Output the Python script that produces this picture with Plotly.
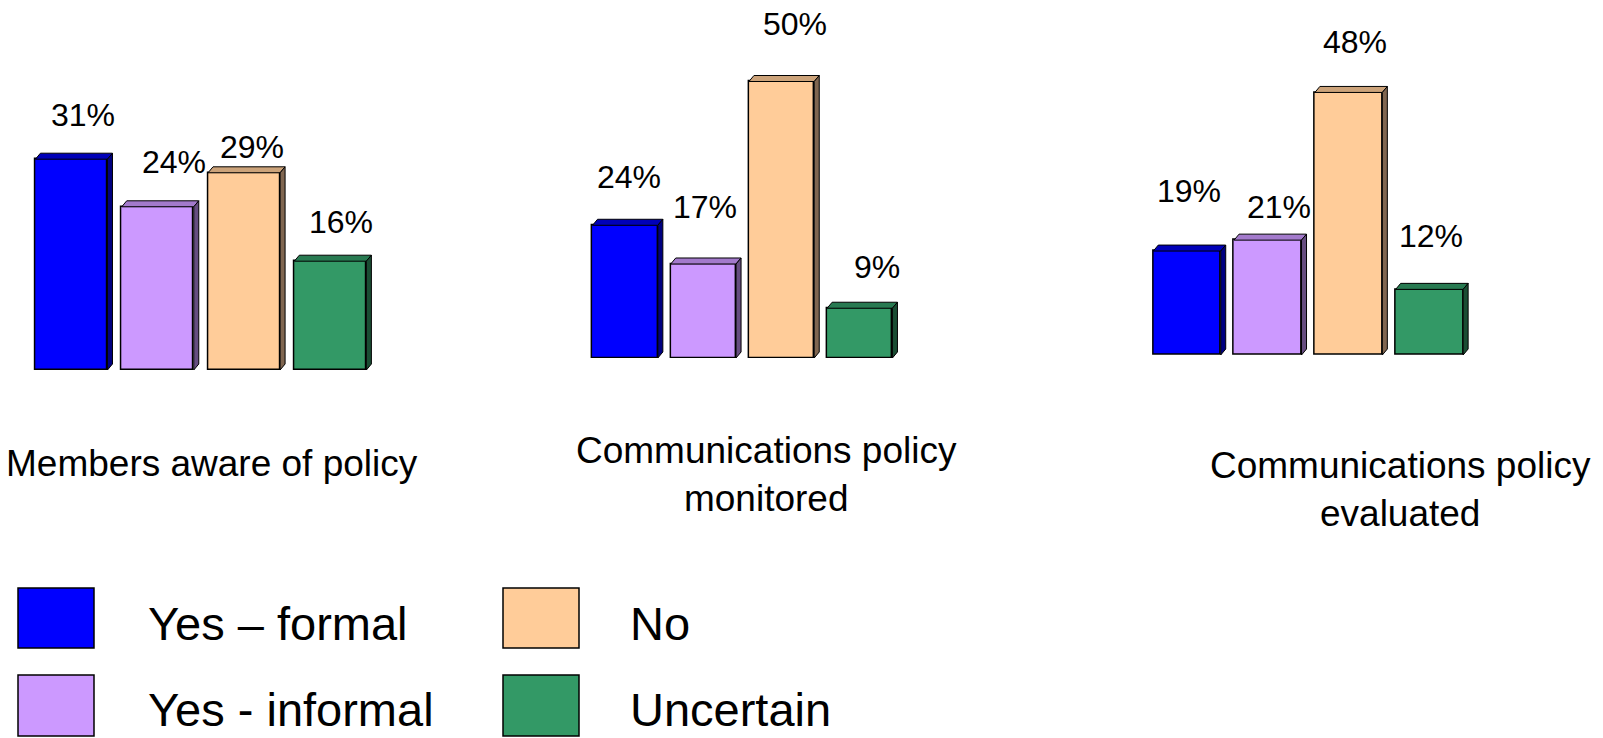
import plotly.graph_objects as go

# ---- data -------------------------------------------------------------
responses = ["Yes – formal", "Yes - informal", "No", "Uncertain"]
questions = ["Members aware of policy",
             "Communications policy<br>monitored",
             "Communications policy<br>evaluated"]
aware_pct = [31, 24, 29, 16]
monitored_pct = [24, 17, 50, 9]
evaluated_pct = [19, 21, 48, 12]
group_values = [aware_pct, monitored_pct, evaluated_pct]

# ---- styling ----------------------------------------------------------
W, H = 1603, 738
FONT = "Liberation Sans, Arial, sans-serif"
front_colors = ["#0000FF", "#CC99FF", "#FFCC99", "#339966"]
top_colors = ["#0000B8", "#A37ACC", "#CCA37A", "#287A51"]
side_colors = ["#000080", "#664D80", "#806650", "#1A4D33"]

# panel boxes in pixels: (left, right, baseline, top of axis range)
panels = [(28.3, 373.5, 370, 98), (586.1, 898.9, 358, 26.2), (1146.6, 1469.8, 355, 26.8)]
y_max = [40, 60, 60]
bar_width = 0.835
depth_px = (5, 6)  # 3-D extrusion of each bar (right, up)

# value-label offsets in pixels (right, up) from each bar's top centre
label_dx = [[12, 16, 8, 11], [4, 2, 13, 17], [2, 11, 6, 2]]
label_dy = [[44, 45, 26, 39], [48, 57, 57, 41], [60, 33, 50, 53]]

# question captions: (x centre px, y centre px)
caption_pos = [(212, 463), (766, 474), (1400, 490)]


def px_x(x):
    return x / W


def px_y(y):
    return 1 - y / H


fig = go.Figure()
annotations = []
shapes = []

for g, values in enumerate(group_values):
    left, right, base, top = panels[g]
    suffix = "" if g == 0 else str(g + 1)
    xa, ya = "x" + suffix, "y" + suffix
    n = len(values)
    pitch = (right - left) / n
    scale = (base - top) / y_max[g]
    ddx = depth_px[0] / pitch
    ddy = depth_px[1] / scale
    xs = list(range(n))

    fig.add_trace(go.Bar(
        x=xs, y=values, width=bar_width, xaxis=xa, yaxis=ya,
        marker=dict(color=front_colors, line=dict(color="black", width=1.5)),
        showlegend=False, hoverinfo="skip",
    ))

    half = bar_width / 2
    for i, v in enumerate(values):
        # top face
        fig.add_trace(go.Scatter(
            x=[i - half, i - half + ddx, i + half + ddx, i + half, i - half],
            y=[v, v + ddy, v + ddy, v, v],
            fill="toself", fillcolor=top_colors[i], mode="lines",
            line=dict(color="black", width=1), xaxis=xa, yaxis=ya,
            showlegend=False, hoverinfo="skip",
        ))
        # side face
        fig.add_trace(go.Scatter(
            x=[i + half, i + half, i + half + ddx, i + half + ddx, i + half],
            y=[0, v, v + ddy, ddy, 0],
            fill="toself", fillcolor=side_colors[i], mode="lines",
            line=dict(color="black", width=1), xaxis=xa, yaxis=ya,
            showlegend=False, hoverinfo="skip",
        ))
        annotations.append(dict(
            x=i, y=v, xref=xa, yref=ya, text=f"{v}%", showarrow=False,
            xshift=label_dx[g][i], yshift=label_dy[g][i],
            xanchor="center", yanchor="middle",
            font=dict(family=FONT, size=32, color="black"),
        ))

    axis_common = dict(visible=False, showgrid=False, zeroline=False, fixedrange=True)
    fig.update_layout(**{
        "xaxis" + suffix: dict(domain=[px_x(left), px_x(right)], range=[-0.5, n - 0.5],
                               anchor=ya, **axis_common),
        "yaxis" + suffix: dict(domain=[px_y(base), px_y(top)], range=[0, y_max[g]],
                               anchor=xa, **axis_common),
    })

    cx, cy = caption_pos[g]
    annotations.append(dict(
        x=px_x(cx), y=px_y(cy), xref="paper", yref="paper", text=questions[g],
        showarrow=False, xanchor="center", yanchor="middle", align="center",
        font=dict(family=FONT, size=37, color="black"),
    ))

# ---- legend (two columns, two rows) ------------------------------------
legend_cols = [(18, 146), (503, 628)]   # square left, text left
# square top, square bottom, text y (px), text anchor
legend_rows = [(588, 648, 623, "middle"), (675, 736, 738, "bottom")]
for k, name in enumerate(responses):
    col, row = k // 2, k % 2
    sq_left, txt_left = legend_cols[col]
    sq_top, sq_bot, txt_y, anchor = legend_rows[row]
    shapes.append(dict(
        type="rect", xref="paper", yref="paper",
        x0=px_x(sq_left), x1=px_x(sq_left + 76), y0=px_y(sq_bot), y1=px_y(sq_top),
        fillcolor=front_colors[k], line=dict(color="black", width=1.5),
    ))
    annotations.append(dict(
        x=px_x(txt_left), y=px_y(txt_y), xref="paper", yref="paper", text=name,
        showarrow=False, xanchor="left", yanchor=anchor,
        font=dict(family=FONT, size=47, color="black"),
    ))

fig.update_layout(
    width=W, height=H, autosize=False,
    margin=dict(l=0, r=0, t=0, b=0, pad=0),
    paper_bgcolor="white", plot_bgcolor="rgba(0,0,0,0)",
    bargap=0, showlegend=False,
    annotations=annotations, shapes=shapes,
)

fig.write_html("out.html", config={"displayModeBar": False})
